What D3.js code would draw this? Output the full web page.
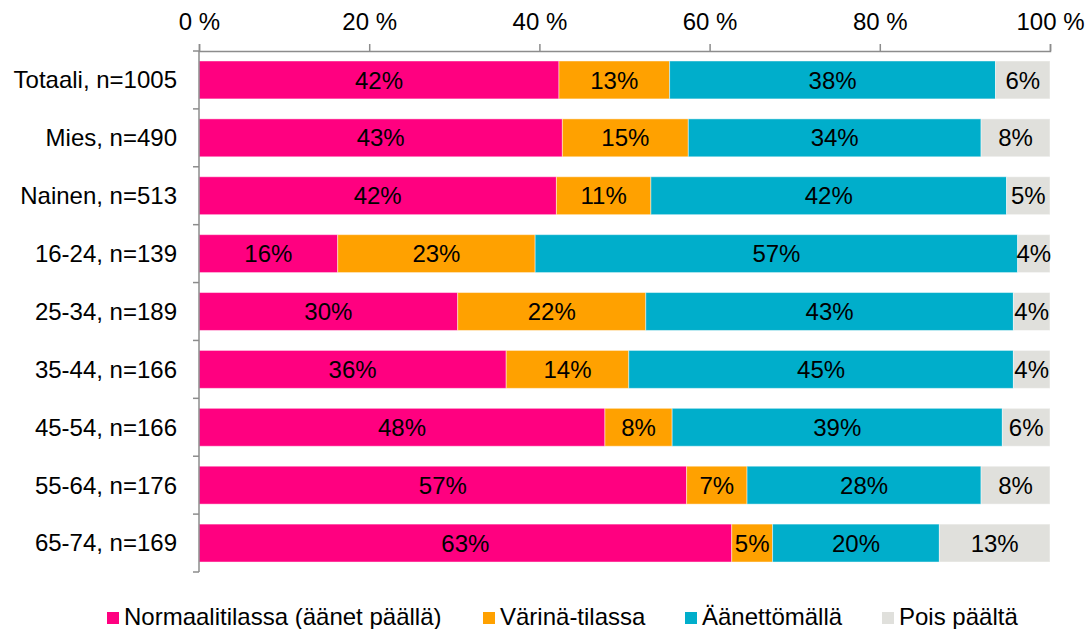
<!DOCTYPE html>
<meta charset="utf-8">
<head>
<style>
body { margin: 0; background: #fff; }
svg text { font-family: "Liberation Sans", Arial, sans-serif; }
</style>
</head>
<script src="https://cdn.jsdelivr.net/npm/d3@7"></script>
<div id="chart"></div>
<script>
// categories and series (percent)
var categories = ["Totaali, n=1005", "Mies, n=490", "Nainen, n=513", "16-24, n=139",
  "25-34, n=189", "35-44, n=166", "45-54, n=166", "55-64, n=176", "65-74, n=169"];
var seriesNames = ["Normaalitilassa (äänet päällä)", "Värinä-tilassa", "Äänettömällä", "Pois päältä"];
var normaali = [42.3, 42.7, 42.0, 16.3, 30.4, 36.1, 47.7, 57.3, 62.6];
var varina   = [13.0, 14.8, 11.1, 23.2, 22.1, 14.4, 7.9, 7.1, 4.8];
var aaneton  = [38.3, 34.4, 41.8, 56.7, 43.2, 45.2, 38.8, 27.5, 19.6];
var pois     = [6.4, 8.1, 5.1, 3.8, 4.3, 4.3, 5.6, 8.1, 13.0];
var tickValues = [0, 20, 40, 60, 80, 100];
var colors = ["#FF0080", "#FFA100", "#00AECB", "#E0E0DC"];

var W = 1086, H = 629;
var margin = {top: 51, right: 36, bottom: 57, left: 199};
var width = W - margin.left - margin.right,
    height = H - margin.top - margin.bottom;
var fontSize = "24px";

var svg = d3.select("#chart").append("svg")
    .attr("width", W).attr("height", H)
  .append("g")
    .attr("transform", "translate(" + margin.left + "," + margin.top + ")");

var x = d3.scaleLinear().domain([0, 100]).range([0, width]);
var y = d3.scaleBand().domain(categories).range([0, height]).paddingInner(0.345).paddingOuter(0.1725);

var rows = categories.map(function(c, i) {
  return {cat: c, normaali: normaali[i], varina: varina[i], aaneton: aaneton[i], pois: pois[i]};
});
var keys = ["normaali", "varina", "aaneton", "pois"];
var stacked = d3.stack().keys(keys)(rows);

// bars
var layers = svg.selectAll(".layer").data(stacked).enter().append("g")
  .attr("fill", function(d, i) { return colors[i]; });

layers.selectAll("rect").data(function(d) { return d; }).enter().append("rect")
  .attr("x", function(d) { return x(d[0]); })
  .attr("y", function(d) { return y(d.data.cat); })
  .attr("width", function(d) { return x(d[1]) - x(d[0]); })
  .attr("height", y.bandwidth())
  .attr("stroke", "rgba(255,255,255,0.45)")
  .attr("stroke-width", 1);

// value labels
layers.selectAll("text").data(function(d) { return d; }).enter().append("text")
  .attr("x", function(d) { return (x(d[0]) + x(d[1])) / 2; })
  .attr("y", function(d) { return y(d.data.cat) + y.bandwidth() / 2; })
  .attr("dy", "0.36em")
  .attr("text-anchor", "middle")
  .attr("fill", "#000")
  .style("font-size", fontSize)
  .text(function(d) { return Math.round(d[1] - d[0]) + "%"; });

// top axis
var xAxis = svg.append("g")
  .call(d3.axisTop(x).tickValues(tickValues).tickSize(7).tickFormat(function(d) { return d + " %"; }));
xAxis.select(".domain").attr("stroke", "#8c8c8c").attr("stroke-width", 1.5);
xAxis.selectAll(".tick line").attr("stroke", "#8c8c8c").attr("stroke-width", 1.5);
xAxis.selectAll(".tick text")
  .attr("y", -21)
  .attr("dy", 0)
  .style("font-size", fontSize)
  .attr("fill", "#000");

// left axis with ticks at band boundaries
svg.append("line")
  .attr("x1", 0).attr("x2", 0).attr("y1", 0).attr("y2", height)
  .attr("stroke", "#8c8c8c").attr("stroke-width", 1.5);
var bounds = d3.range(categories.length + 1).map(function(i) { return i * y.step(); });
svg.selectAll(".ytick").data(bounds).enter().append("line")
  .attr("x1", -6).attr("x2", 0)
  .attr("y1", function(d) { return d; }).attr("y2", function(d) { return d; })
  .attr("stroke", "#8c8c8c").attr("stroke-width", 1.5);

svg.selectAll(".ylabel").data(categories).enter().append("text")
  .attr("x", -22)
  .attr("y", function(d) { return y(d) + y.bandwidth() / 2; })
  .attr("dy", "0.35em")
  .attr("text-anchor", "end")
  .style("font-size", fontSize)
  .attr("fill", "#000")
  .text(function(d) { return d; });

// legend
var legendX = [107, 483, 685, 882];
var legend = d3.select("#chart svg").append("g");
legend.selectAll("rect").data(seriesNames).enter().append("rect")
  .attr("x", function(d, i) { return legendX[i]; })
  .attr("y", 612)
  .attr("width", 12).attr("height", 12)
  .attr("fill", function(d, i) { return colors[i]; });
legend.selectAll("text").data(seriesNames).enter().append("text")
  .attr("x", function(d, i) { return legendX[i] + 17; })
  .attr("y", 625)
  .style("font-size", fontSize)
  .attr("fill", "#000")
  .text(function(d) { return d; });
</script>
